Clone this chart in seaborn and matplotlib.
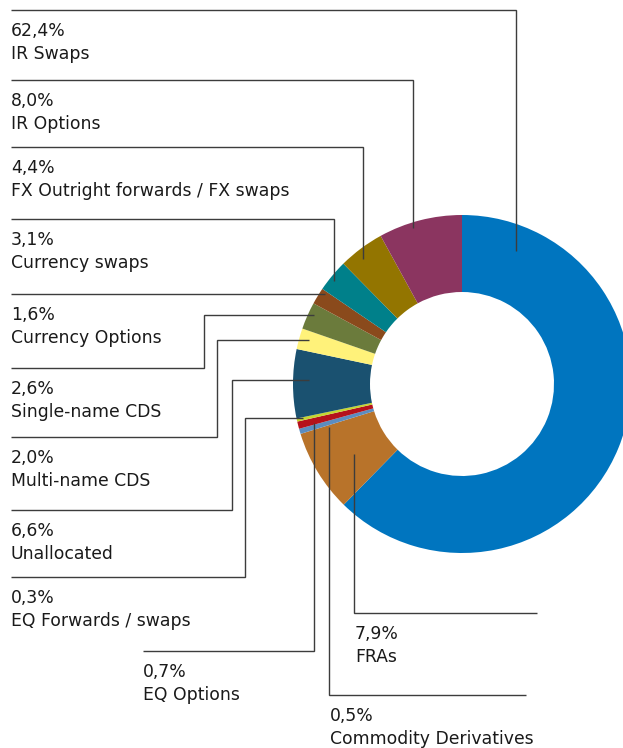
import matplotlib
matplotlib.use("Agg")
import matplotlib.pyplot as plt
import seaborn as sns

# Share of notional by product (percent), clockwise from 12 o'clock
products = ["IR Swaps", "FRAs", "Commodity Derivatives", "EQ Options",
            "EQ Forwards / swaps", "Unallocated", "Multi-name CDS",
            "Single-name CDS", "Currency Options", "Currency swaps",
            "FX Outright forwards / FX swaps", "IR Options"]
shares = [62.4, 7.9, 0.5, 0.7, 0.3, 6.6, 2.0, 2.6, 1.6, 3.1, 4.4, 8.0]
share_labels = ["62,4%", "7,9%", "0,5%", "0,7%", "0,3%", "6,6%", "2,0%",
                "2,6%", "1,6%", "3,1%", "4,4%", "8,0%"]
colors = ["#0075bf", "#b8732a", "#5b8dc0", "#b5121b", "#c5d631", "#1a5170",
          "#fff27a", "#6b7b3c", "#8a4a1c", "#00808a", "#937500", "#8b3560"]

W, H = 623, 748
sns.set_theme(style="white")
plt.rcParams["font.family"] = ["DejaVu Sans"]

fig = plt.figure(figsize=(W / 100, H / 100), dpi=100)
ax = fig.add_axes([0, 0, 1, 1])

# Donut in pixel-like data units (y measured from the top of the figure)
cx, cy, r_out, r_in = 462, 384, 169, 92
ax.pie(shares, colors=colors, startangle=90, counterclock=False,
       center=(cx, H - cy), radius=r_out,
       wedgeprops=dict(width=r_out - r_in, linewidth=0))

ax.set_xlim(0, W)
ax.set_ylim(0, H)
ax.set_aspect("equal")
ax.axis("off")

# Leader lines (pixel coordinates from top-left) and text anchors
layout = {
    "IR Swaps": dict(path=[(11, 10), (516, 10), (516, 251)], text=(11, 10)),
    "IR Options": dict(path=[(11, 80), (413, 80), (413, 228)], text=(11, 80)),
    "FX Outright forwards / FX swaps": dict(path=[(11, 147), (363, 147), (363, 259)], text=(11, 147)),
    "Currency swaps": dict(path=[(11, 219), (334, 219), (334, 281)], text=(11, 219)),
    "Currency Options": dict(path=[(11, 294), (325, 294)], text=(11, 294)),
    "Single-name CDS": dict(path=[(11, 368), (204, 368), (204, 315), (314, 315)], text=(11, 368)),
    "Multi-name CDS": dict(path=[(11, 437), (217, 437), (217, 340), (309, 340)], text=(11, 437)),
    "Unallocated": dict(path=[(11, 510), (232, 510), (232, 380), (309, 380)], text=(11, 510)),
    "EQ Forwards / swaps": dict(path=[(11, 577), (245, 577), (245, 418), (303, 418)], text=(11, 577)),
    "EQ Options": dict(path=[(143, 651), (314, 651), (314, 423)], text=(143, 651)),
    "Commodity Derivatives": dict(path=[(526, 695), (329, 695), (329, 427)], text=(330, 695)),
    "FRAs": dict(path=[(537, 613), (354, 613), (354, 454)], text=(355, 613)),
}

line_color = "#3c3c3c"
text_color = "#1a1a1a"
for name, pct in zip(products, share_labels):
    spec = layout[name]
    xs = [p[0] for p in spec["path"]]
    ys = [H - p[1] for p in spec["path"]]
    ax.plot(xs, ys, color=line_color, lw=1.0, solid_capstyle="butt",
            solid_joinstyle="miter")
    tx, ty = spec["text"]
    ax.text(tx, H - (ty + 26), pct, fontsize=12.4, color=text_color,
            ha="left", va="baseline")
    ax.text(tx, H - (ty + 49), name, fontsize=12.4, color=text_color,
            ha="left", va="baseline")

fig.savefig("out.png", dpi=100, facecolor="white")
